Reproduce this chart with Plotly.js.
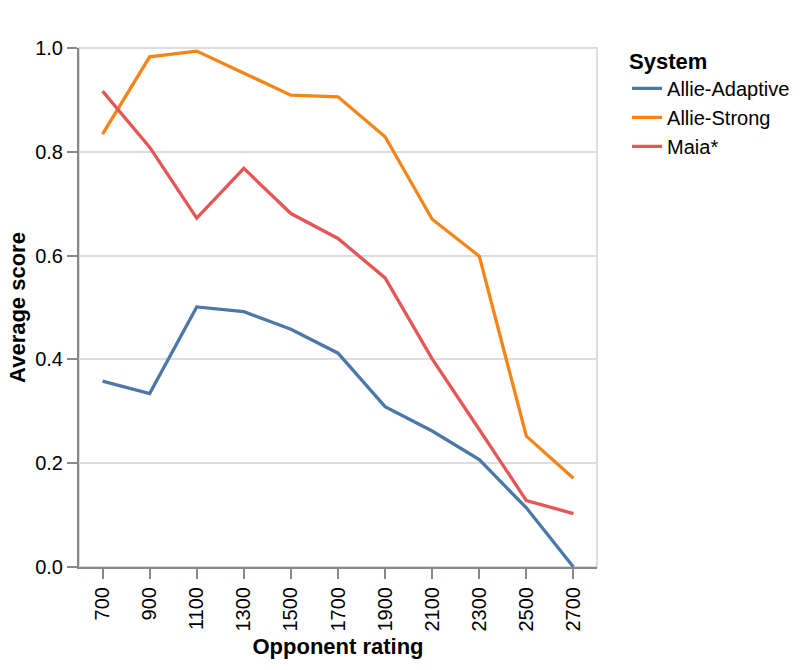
<!DOCTYPE html>
<html>
<head>
<meta charset="utf-8">
<script src="https://cdn.plot.ly/plotly-3.0.1.min.js"></script>
<style>html,body{margin:0;padding:0;background:#fff;}#chart{width:800px;height:670px;}</style>
</head>
<body>
<div id="chart"></div>
<script>
const ratings = ["700","900","1100","1300","1500","1700","1900","2100","2300","2500","2700"];
const allieAdaptive = [0.358,0.334,0.501,0.492,0.458,0.412,0.309,0.262,0.207,0.114,0.0];
const allieStrong = [0.834,0.983,0.994,0.951,0.909,0.906,0.829,0.670,0.599,0.252,0.171];
const maia = [0.917,0.809,0.672,0.768,0.681,0.633,0.557,0.401,0.265,0.128,0.103];
const seriesNames = ["Allie-Adaptive","Allie-Strong","Maia*"];
const seriesColors = ["#4c78a8","#f58518","#e45756"];
const yTicks = [0,0.2,0.4,0.6,0.8,1.0];
const yTickText = ["0.0","0.2","0.4","0.6","0.8","1.0"];

const FONT = "Liberation Sans, Arial, Helvetica, sans-serif";
const allSeries = [allieAdaptive, allieStrong, maia];
const traces = allSeries.map((vals, i) => ({
  type: "scatter",
  mode: "lines",
  x: ratings,
  y: vals,
  name: seriesNames[i],
  line: {color: seriesColors[i], width: 3.3},
  hoverinfo: "x+y+name"
}));

const layout = {
  width: 800, height: 670,
  margin: {l: 79, r: 203, t: 48, b: 103, pad: 0, autoexpand: false},
  paper_bgcolor: "#fff", plot_bgcolor: "#fff",
  font: {family: FONT, size: 20, color: "#000"},
  showlegend: true,
  xaxis: {
    type: "category",
    categoryorder: "array", categoryarray: ratings,
    range: [-0.5, ratings.length - 0.5],
    showgrid: false,
    showline: true, linecolor: "#888", linewidth: 2,
    ticks: "outside", ticklen: 10, tickwidth: 2, tickcolor: "#888",
    tickangle: -90,
    tickfont: {family: FONT, size: 20, color: "#000"},
    title: {text: "<b>Opponent rating</b>", font: {family: FONT, size: 22, color: "#000"}, standoff: 8},
    zeroline: false, fixedrange: true, automargin: false
  },
  yaxis: {
    range: [0, 1],
    tickvals: yTicks, ticktext: yTickText,
    showgrid: true, gridcolor: "#ddd", gridwidth: 2,
    showline: true, linecolor: "#888", linewidth: 2,
    ticks: "outside", ticklen: 10, tickwidth: 2, tickcolor: "#888",
    tickfont: {family: FONT, size: 20, color: "#000"},
    title: {text: "<b>Average score</b>", font: {family: FONT, size: 22, color: "#000"}, standoff: 3},
    zeroline: false, fixedrange: true, automargin: false
  },
  legend: {
    x: 1.058, xanchor: "left", y: 1.015, yanchor: "top",
    title: {text: "<b>System</b>", font: {family: FONT, size: 22, color: "#000"}},
    font: {family: FONT, size: 20, color: "#000"},
    itemwidth: 30, tracegroupgap: 0,
    bgcolor: "rgba(0,0,0,0)"
  },
  shapes: [{
    type: "rect", xref: "paper", yref: "paper", x0: 0, x1: 1, y0: 0, y1: 1,
    line: {color: "#ddd", width: 2}, layer: "below"
  }]
};

Plotly.newPlot("chart", traces, layout, {displayModeBar: false, staticPlot: true});
</script>
</body>
</html>
